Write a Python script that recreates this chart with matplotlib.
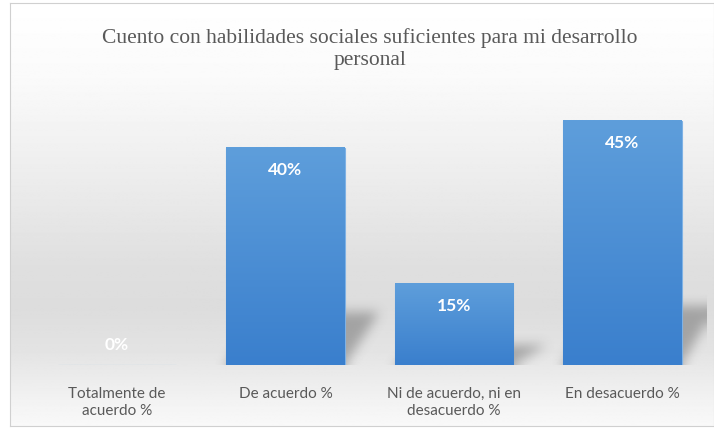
import numpy as np
import matplotlib
matplotlib.use("Agg")
import matplotlib.pyplot as plt

categories = ["Totalmente de\nacuerdo %", "De acuerdo %", "Ni de acuerdo, ni en\ndesacuerdo %", "En desacuerdo %"]
values = [0, 40, 15, 45]
labels = ["0%", "40%", "15%", "45%"]
title = "Cuento con habilidades sociales suficientes para mi desarrollo\npersonal"

W, H = 714, 431
fig = plt.figure(figsize=(W / 100, H / 100), dpi=100)

# background frame with vertical grey gradient
bg = fig.add_axes([10 / W, 4 / H, 704 / W, 423 / H], zorder=0)
ys = np.linspace(0, 1, 400)
stops_y = [0.0, 0.18, 0.42, 0.62, 0.72, 0.82, 0.94, 1.0]
stops_c = [1.0, 0.98, 0.925, 0.875, 0.865, 0.89, 0.95, 0.975]
grad = np.interp(ys, stops_y, stops_c)
bg.imshow(np.tile(grad[:, None], (1, 2)), cmap="gray", vmin=0, vmax=1,
          aspect="auto", extent=[0, 1, 1, 0])
bg.set_xlim(0, 1)
bg.set_ylim(1, 0)
bg.set_xticks([])
bg.set_yticks([])
for s in bg.spines.values():
    s.set_color("#d0d0d0")
    s.set_linewidth(0.8)

ax = fig.add_axes([32.75 / W, 65 / H, 674 / W, 271.5 / H], zorder=1)
ax.patch.set_alpha(0)
x = np.arange(len(values))
width = 0.706

# blurred perspective shadows (skewed copy of each bar, squashed and blurred)
gx = np.linspace(-0.5, 3.5, 680)
gy = np.linspace(0, 50, 272)
X, Y = np.meshgrid(gx, gy)
mask = np.zeros_like(X)
for xi, v in zip(x, values):
    if v == 0:
        continue
    hs = v * 0.24
    k = 0.2
    sh = k * Y / hs
    inside = (Y <= hs) & (X >= xi - width / 2 + sh) & (X <= xi + width / 2 + sh)
    mask[inside] = 1.0


def blur(a, r, axis):
    pad = [(0, 0), (0, 0)]
    pad[axis] = (r, r)
    b = np.pad(a, pad, mode="edge")
    c = np.cumsum(b, axis=axis)
    c = np.insert(c, 0, 0, axis=axis)
    n = a.shape[axis]
    return (np.take(c, np.arange(2 * r + 1, 2 * r + 1 + n), axis=axis)
            - np.take(c, np.arange(0, n), axis=axis)) / (2 * r + 1)


for _ in range(3):
    mask = blur(mask, 5, 0)
    mask = blur(mask, 5, 1)
shadow = np.zeros(mask.shape + (4,))
shadow[..., :3] = 0.35
shadow[..., 3] = mask * 0.45
ax.imshow(shadow, extent=[-0.5, 3.5, 0, 50], origin="lower", aspect="auto", zorder=2)

bars = ax.bar(x, values, width=width, color="#4a8fd6", edgecolor="#7fb2e5", linewidth=0.8, zorder=3)
cmap = matplotlib.colors.LinearSegmentedColormap.from_list("b", ["#3a7fcd", "#5e9edb"])
for b in bars:
    h = b.get_height()
    if h == 0:
        continue
    x0 = b.get_x()
    ax.imshow(np.linspace(0, 1, 100)[:, None], cmap=cmap, aspect="auto",
              extent=[x0, x0 + b.get_width(), 0, h], origin="lower", zorder=3.5)

for xi, v, lab in zip(x, values, labels):
    off = 21 if v == 0 else -21
    ax.annotate(lab, (xi, v), xytext=(0, off), textcoords="offset pixels",
                ha="center", va="center", color="white", fontsize=12.5,
                fontweight="bold", family="Lato", zorder=5)

ax.set_xlim(-0.5, 3.5)
ax.set_ylim(0, 50)
ax.set_xticks(x)
ax.set_xticklabels(categories, family="Lato", fontsize=11, color="#595959", linespacing=1.25)
ax.tick_params(axis="x", length=0, pad=15)
ax.set_yticks([])
for s in ax.spines.values():
    s.set_visible(False)

fig.text(370 / W, 1 - 49 / H, title, ha="center", va="center", family="Liberation Serif",
         fontsize=15.5, color="#595959", linespacing=1.2)

fig.savefig("out.png", dpi=100)
